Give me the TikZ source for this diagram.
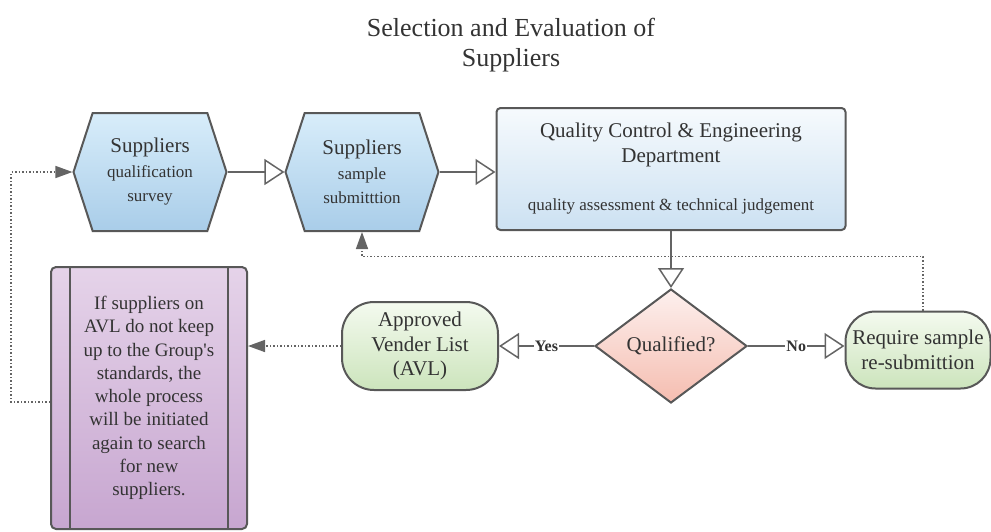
\documentclass[tikz,border=0pt]{standalone}
\usepackage{fontspec}
\setmainfont{Liberation Serif}
\usepackage{tikz}
\usetikzlibrary{shapes.geometric,shapes.symbols,arrows.meta}

\definecolor{edgegray}{HTML}{585858}
\definecolor{linegray}{HTML}{646464}
\definecolor{txtgray}{HTML}{333333}
\definecolor{blueTop}{HTML}{D8EDFA}
\definecolor{blueBot}{HTML}{A9CDE9}
\definecolor{qcTop}{HTML}{F6FAFD}
\definecolor{qcBot}{HTML}{CCE1F2}
\definecolor{redTop}{HTML}{FDF0EE}
\definecolor{redBot}{HTML}{F5BDB0}
\definecolor{greenTop}{HTML}{F4FAEF}
\definecolor{greenBot}{HTML}{CCE4BC}
\definecolor{purpTop}{HTML}{E5D3E9}
\definecolor{purpBot}{HTML}{C7A6D0}

\newcommand{\bigsz}{\fontsize{21}{24.5}\selectfont}
\newcommand{\smallsz}{\fontsize{17}{24.5}\selectfont}

\begin{document}
\begin{tikzpicture}[x=1pt,y=-1pt,
  box/.style={draw=edgegray,line width=2pt,text=txtgray,align=center,inner sep=0pt,font=\bigsz},
  hexa/.style={box,shape=signal,signal to=west and east,signal pointer angle=144,
    minimum width=153,minimum height=118,top color=blueTop,bottom color=blueBot},
  flow/.style={linegray,line width=1.5pt,-{Triangle[open,length=20,width=26]}},
  back/.style={linegray,line width=1.5pt,dotted,-{Triangle[length=17,width=12]}},
  answer/.style={fill=white,inner sep=1pt,font=\fontsize{16}{16}\selectfont\bfseries,text=txtgray}]
  \useasboundingbox (0,0) rectangle (991,531);

  % title
  \node[align=center,text=txtgray,font=\fontsize{26}{30}\selectfont] (title) at (511,45)
    {Selection and Evaluation of\\Suppliers};

  % suppliers steps
  \node[hexa] (survey) at (150,172) {Suppliers\\{\smallsz qualification}\\{\smallsz survey}};
  \node[hexa] (sample) at (362,172) {Suppliers\\{\smallsz sample}\\{\smallsz submitttion}};
  \node[box,rounded corners=4,minimum width=349,minimum height=122,
    top color=qcTop,bottom color=qcBot] (qc) at (671,169)
    {Quality Control \& Engineering\\Department\\[24pt]
     {\smallsz quality assessment \& technical judgement}};

  % decision
  \node[box,shape=diamond,aspect=1.33,minimum width=152,minimum height=114,
    top color=redTop,bottom color=redBot] (qualified) at (671,346) {Qualified?};
  \node[box,rounded corners=32,minimum width=156,minimum height=88,
    top color=greenTop,bottom color=greenBot] (avl) at (420,346)
    {Approved\\Vender List\\(AVL)};
  \node[box,rounded corners=30,minimum width=145,minimum height=77,
    top color=greenTop,bottom color=greenBot] (resubmit) at (918,350)
    {Require sample\\re-submittion};

  % review of suppliers on AVL
  \node[box,rounded corners=5,minimum width=196,minimum height=262,
    top color=purpTop,bottom color=purpBot,
    font=\fontsize{19}{23.3}\selectfont] (review) at (149,398)
    {If suppliers on\\AVL do not keep\\up to the Group\textquotesingle s\\standards, the\\whole process\\will be initiated\\again to search\\for new\\suppliers.};
  \draw[edgegray,line width=2pt] ([xshift=20]review.north west) -- ([xshift=20]review.south west);
  \draw[edgegray,line width=2pt] ([xshift=-20]review.north east) -- ([xshift=-20]review.south east);

  % connectors
  \draw[flow] (survey.east) -- (sample.west);
  \draw[flow] (sample.east) -- (sample.east -| qc.west);
  \draw[flow] (qc.south) -- (qualified.north);
  \draw[flow] (qualified.west) -- node[answer] {Yes} (avl.east);
  \draw[flow] (qualified.east) -- node[answer] {No} (qualified.east -| resubmit.west);
  \draw[back] (avl.west) -- (avl.west -| review.east);
  \draw[back] ([yshift=-4]review.west) -- ++(-39,0) |- (survey.west);
  \draw[back] ([xshift=5]resubmit.north) -- ++(0,-54) -| (sample.south);
\end{tikzpicture}
\end{document}
